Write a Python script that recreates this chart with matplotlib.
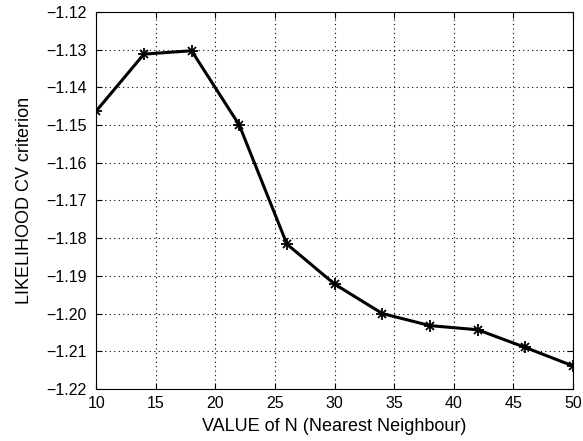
import matplotlib
matplotlib.use("Agg")
import matplotlib.pyplot as plt

plt.rcParams['font.family'] = ['Liberation Sans', 'DejaVu Sans']

n_values = [10, 14, 18, 22, 26, 30, 34, 38, 42, 46, 50]
cv_values = [-1.1463, -1.1312, -1.1303, -1.1500, -1.1816, -1.1922,
             -1.2000, -1.2032, -1.2043, -1.2090, -1.2139]
xticks = [10, 15, 20, 25, 30, 35, 40, 45, 50]
yticks = [-1.12, -1.13, -1.14, -1.15, -1.16, -1.17, -1.18, -1.19, -1.20, -1.21, -1.22]
ytick_labels = ['-1.12', '-1.13', '-1.14', '-1.15', '-1.16', '-1.17',
                '-1.18', '-1.19', '-1.20', '-1.21', '-1.22']

fig = plt.figure(figsize=(5.83, 4.41), dpi=100)
ax = fig.add_axes([0.165, 0.118, 0.818, 0.855])
ax.plot(n_values, cv_values, color='black', linewidth=2.2)
ax.plot(n_values, cv_values, linestyle='none', marker='+', color='black',
        markersize=8, markeredgewidth=1.3)
ax.plot(n_values, cv_values, linestyle='none', marker='x', color='black',
        markersize=6, markeredgewidth=1.3)
ax.set_xlim(10, 50)
ax.set_ylim(-1.22, -1.12)
ax.set_xticks(xticks)
ax.set_yticks(yticks)
ax.set_yticklabels([t.replace('-', '\u2212') for t in ytick_labels])
ax.grid(True, linestyle=(0, (1, 3)), color='black', linewidth=0.8)
ax.tick_params(direction='in', labelsize=11.5, length=4, top=True, right=True,
               labeltop=False, labelright=False)
ax.tick_params(axis='y', pad=7)
ax.tick_params(axis='x', pad=5)
ax.set_xlabel('VALUE of N (Nearest Neighbour)', fontsize=13, labelpad=5)
ax.set_ylabel('LIKELIHOOD CV criterion', fontsize=13, labelpad=9)
for s in ax.spines.values():
    s.set_linewidth(0.8)
fig.savefig('out.png', dpi=100)
